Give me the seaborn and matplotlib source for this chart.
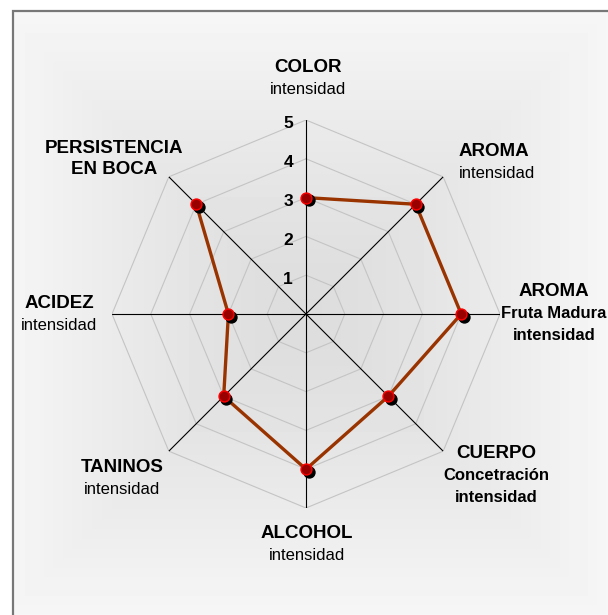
import matplotlib
matplotlib.use("Agg")
import matplotlib.pyplot as plt
import matplotlib.transforms as mtransforms
from matplotlib.patches import Rectangle
import seaborn as sns
import numpy as np

# Wine tasting profile (0-5 scale), clockwise from the top
categories = ['COLOR', 'AROMA int', 'AROMA fruta', 'CUERPO',
              'ALCOHOL', 'TANINOS', 'ACIDEZ', 'PERSISTENCIA']
values = [3, 4, 4, 3, 4, 3, 2, 4]
levels = [1, 2, 3, 4, 5]
tick_labels = ['1', '2', '3', '4', '5']

# axis captions: list of (text, size, weight), x px, y px of first line, ha
captions = [
    ([('COLOR', 13.5, 'bold'), ('intensidad', 12, 'normal')], 308, 67, 'center'),
    ([('AROMA', 13.5, 'bold'), ('intensidad', 12, 'normal')], 459, 152, 'left'),
    ([('AROMA', 13.5, 'bold'), ('Fruta Madura', 12, 'bold'),
      ('intensidad', 12, 'bold')], 554, 291, 'center'),
    ([('CUERPO', 13.5, 'bold'), ('Concetración', 12, 'bold'),
      ('intensidad', 12, 'bold')], 496, 453, 'center'),
    ([('ALCOHOL', 13.5, 'bold'), ('intensidad', 12, 'normal')], 307, 534, 'center'),
    ([('TANINOS', 13.5, 'bold'), ('intensidad', 12, 'normal')], 122, 467, 'center'),
    ([('ACIDEZ', 13.5, 'bold'), ('intensidad', 12, 'normal')], 59, 303, 'center'),
    ([('PERSISTENCIA', 13.5, 'bold'), ('EN BOCA', 13.5, 'bold')], 114, 148, 'center'),
]

sns.set_style("white")
plt.rcParams['font.family'] = ['Liberation Sans', 'DejaVu Sans']

W, H = 608, 615
fig = plt.figure(figsize=(W / 100, H / 100), dpi=100)
fig.patch.set_facecolor('white')

# background panel with soft gradient
bg = fig.add_axes([12 / W, 0, 1 - 12 / W, 1 - 10 / H])
yy, xx = np.mgrid[0:H - 10, 0:W - 12]
cx, cy = 306 - 12, 314 - 10
d = np.maximum(np.abs(xx - cx) / 300.0, np.abs(yy - cy) / 300.0)
d = np.clip(d, 0, 1)
shade = 0.865 + (0.965 - 0.865) * d ** 1.3
bg.imshow(shade, cmap='gray', vmin=0, vmax=1, aspect='auto',
          interpolation='bilinear')
bg.set_axis_off()
fig.patches.append(Rectangle((12.5 / W, -0.1), 1.2, 1.1 - 10.5 / H,
                             transform=fig.transFigure, fill=False,
                             edgecolor='#777777', linewidth=1.6))

# polar axes, centre at (306, 314) px, radius 194 px
R = 194
ax = fig.add_axes([(306 - R) / W, (H - 314 - R) / H, 2 * R / W, 2 * R / H],
                  projection='polar')
ax.set_theta_zero_location('N')
ax.set_theta_direction(-1)
ax.set_ylim(0, 5)
ax.set_facecolor('none')
ax.grid(False)
ax.spines['polar'].set_visible(False)
ax.set_xticks([])
ax.set_yticks([])

n = len(categories)
theta = np.arange(n) * 2 * np.pi / n
theta_c = np.append(theta, theta[0])

for lv in levels:
    ax.plot(theta_c, [lv] * (n + 1), color='#c4c4c4', lw=0.8, zorder=1)
for t in theta:
    ax.plot([t, t], [0, levels[-1]], color='black', lw=0.8, zorder=2)

for lv, lab in zip(levels, tick_labels):
    off = mtransforms.ScaledTranslation(-0.13, -0.04, fig.dpi_scale_trans)
    ax.text(0, lv, lab, transform=ax.transData + off, ha='right',
            va='center', fontsize=12.5, fontweight='bold', color='black',
            zorder=3)

vals_c = np.append(values, values[0])
sns.lineplot(x=theta_c, y=vals_c, sort=False, ax=ax, color='#993300',
             lw=2.4, zorder=4)

shadow = ax.transData + mtransforms.ScaledTranslation(0.025, -0.025,
                                                      fig.dpi_scale_trans)
ax.scatter(theta, values, s=62, color='black', transform=shadow, zorder=5)
ax.scatter(theta, values, s=62, color='#990000', edgecolor='#ff0000',
           linewidth=1.0, zorder=6)

# captions
for lines, x, y, ha in captions:
    cur = y
    for text, size, weight in lines:
        fig.text(x / W, 1 - cur / H, text, ha=ha, va='center',
                 fontsize=size, fontweight=weight, color='black')
        cur += 22

fig.savefig('out.png', dpi=100)
